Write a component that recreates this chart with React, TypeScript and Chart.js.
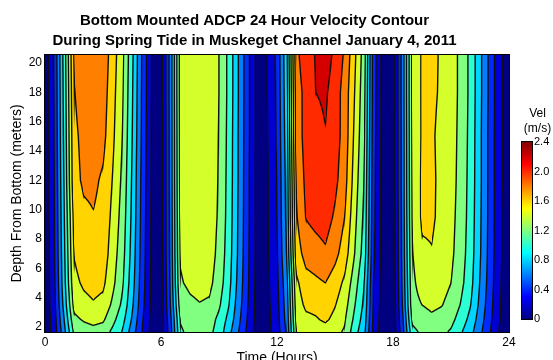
import React, { useEffect, useRef } from 'react';
import { Chart, registerables } from 'chart.js';

Chart.register(...registerables);

// ---------------- data ----------------
const hours = [
  0, 0.5, 1, 1.5, 2, 2.5, 3, 3.5, 4, 4.5, 5, 5.5,
  6, 6.5, 7, 7.5, 8, 8.5, 9, 9.5, 10, 10.5, 11,
  11.5, 12, 12.5, 13, 13.5, 14, 14.5, 15, 15.5, 16, 16.5, 17,
  17.5, 18, 18.5, 19, 19.5, 20, 20.5, 21, 21.5, 22, 22.5, 23, 23.5, 24,
];

const depths = [1.7, 2.5, 3.5, 5, 7, 9.5, 12, 15, 18, 20.5];

// velocity (m/s) along time, one array per depth above bottom
const vel_1_7m = [
  0.03, 0.31, 0.75, 1.24, 1.31, 1.34, 1.31, 1.16, 0.99, 0.71, 0.41, 0.14,
  0.08, 0.53, 1.18, 1.24, 1.27, 1.25, 1.12, 0.87, 0.61, 0.34, 0.09,
  0.13, 0.3, 0.63, 1.4, 1.48, 1.5, 1.52, 1.45, 1.38, 1.09, 0.86, 0.33,
  0.08, 0.06, 0.53, 1.15, 1.24, 1.27, 1.25, 1.18, 1.03, 0.87, 0.65, 0.42, 0.19, 0.06,
];
const vel_2_5m = [
  0.04, 0.33, 0.81, 1.35, 1.42, 1.46, 1.43, 1.26, 1.07, 0.78, 0.44, 0.15,
  0.08, 0.57, 1.21, 1.28, 1.31, 1.29, 1.15, 0.94, 0.66, 0.37, 0.1,
  0.14, 0.32, 0.67, 1.45, 1.55, 1.58, 1.63, 1.55, 1.42, 1.16, 0.91, 0.35,
  0.08, 0.07, 0.57, 1.24, 1.32, 1.36, 1.33, 1.26, 1.11, 0.94, 0.7, 0.45, 0.21, 0.07,
];
const vel_3_5m = [
  0.04, 0.36, 0.88, 1.46, 1.54, 1.58, 1.54, 1.36, 1.16, 0.84, 0.48, 0.16,
  0.09, 0.62, 1.3, 1.36, 1.39, 1.37, 1.23, 1.01, 0.7, 0.4, 0.11,
  0.15, 0.33, 0.7, 1.5, 1.64, 1.66, 1.7, 1.61, 1.48, 1.22, 0.96, 0.37,
  0.09, 0.07, 0.62, 1.32, 1.4, 1.44, 1.41, 1.34, 1.19, 1.01, 0.75, 0.48, 0.22, 0.07,
];
const vel_5m = [
  0.04, 0.38, 0.94, 1.55, 1.63, 1.67, 1.64, 1.45, 1.23, 0.89, 0.51, 0.17,
  0.09, 0.65, 1.38, 1.44, 1.47, 1.45, 1.3, 1.07, 0.74, 0.42, 0.11,
  0.16, 0.35, 0.74, 1.56, 1.72, 1.76, 1.8, 1.7, 1.56, 1.3, 1.01, 0.39,
  0.09, 0.07, 0.65, 1.35, 1.5, 1.52, 1.47, 1.4, 1.26, 1.07, 0.79, 0.51, 0.23, 0.07,
];
const vel_7m = [
  0.04, 0.4, 0.97, 1.61, 1.7, 1.74, 1.71, 1.5, 1.28, 0.93, 0.53, 0.18,
  0.1, 0.67, 1.42, 1.49, 1.52, 1.5, 1.34, 1.1, 0.77, 0.43, 0.12,
  0.17, 0.38, 0.81, 1.7, 1.88, 1.92, 1.97, 1.86, 1.7, 1.41, 1.11, 0.43,
  0.1, 0.08, 0.67, 1.39, 1.57, 1.59, 1.52, 1.44, 1.3, 1.1, 0.82, 0.53, 0.24, 0.08,
];
const vel_9_5m = [
  0.05, 0.41, 1.0, 1.66, 1.76, 1.79, 1.74, 1.55, 1.32, 0.96, 0.55, 0.18,
  0.1, 0.68, 1.44, 1.51, 1.54, 1.52, 1.37, 1.12, 0.78, 0.44, 0.12,
  0.18, 0.4, 0.85, 1.78, 2.01, 2.06, 2.09, 1.97, 1.8, 1.47, 1.16, 0.45,
  0.1, 0.08, 0.68, 1.42, 1.63, 1.63, 1.55, 1.46, 1.32, 1.12, 0.83, 0.54, 0.24, 0.08,
];
const vel_12m = [
  0.05, 0.42, 1.03, 1.74, 1.83, 1.84, 1.77, 1.59, 1.36, 0.98, 0.56, 0.19,
  0.1, 0.69, 1.46, 1.53, 1.56, 1.54, 1.38, 1.13, 0.79, 0.44, 0.12,
  0.18, 0.41, 0.87, 1.82, 2.05, 2.1, 2.15, 2.05, 1.88, 1.52, 1.2, 0.46,
  0.1, 0.08, 0.69, 1.43, 1.63, 1.63, 1.56, 1.48, 1.33, 1.13, 0.84, 0.54, 0.25, 0.08,
];
const vel_15m = [
  0.05, 0.43, 1.06, 1.76, 1.85, 1.9, 1.86, 1.64, 1.4, 1.01, 0.58, 0.19,
  0.1, 0.69, 1.47, 1.53, 1.56, 1.54, 1.39, 1.14, 0.79, 0.45, 0.12,
  0.19, 0.43, 0.9, 1.88, 2.08, 2.12, 2.19, 2.09, 1.92, 1.57, 1.24, 0.48,
  0.1, 0.08, 0.69, 1.44, 1.62, 1.62, 1.56, 1.49, 1.34, 1.14, 0.84, 0.54, 0.25, 0.08,
];
const vel_18m = [
  0.05, 0.44, 1.08, 1.79, 1.89, 1.94, 1.9, 1.67, 1.43, 1.03, 0.59, 0.2,
  0.1, 0.7, 1.48, 1.56, 1.59, 1.56, 1.4, 1.15, 0.8, 0.45, 0.12,
  0.2, 0.44, 0.93, 1.9, 2.07, 2.2, 2.23, 2.1, 1.92, 1.61, 1.27, 0.49,
  0.1, 0.08, 0.7, 1.45, 1.62, 1.63, 1.58, 1.5, 1.35, 1.15, 0.85, 0.55, 0.25, 0.08,
];
const vel_20_5m = [
  0.05, 0.45, 1.1, 1.82, 1.92, 1.97, 1.93, 1.7, 1.45, 1.05, 0.6, 0.2,
  0.1, 0.7, 1.48, 1.55, 1.58, 1.56, 1.4, 1.15, 0.8, 0.45, 0.12,
  0.2, 0.45, 0.95, 1.95, 2.12, 2.21, 2.3, 2.15, 1.97, 1.65, 1.3, 0.5,
  0.1, 0.08, 0.7, 1.45, 1.62, 1.64, 1.58, 1.5, 1.35, 1.15, 0.85, 0.55, 0.25, 0.08,
];

const velocityRows = [
  vel_1_7m, vel_2_5m, vel_3_5m, vel_5m, vel_7m,
  vel_9_5m, vel_12m, vel_15m, vel_18m, vel_20_5m,
];

const contourLevels = [0, 0.2, 0.4, 0.6, 0.8, 1.0, 1.2, 1.4, 1.6, 1.8, 2.0, 2.2, 2.4];
const timeTicks = [0, 6, 12, 18, 24];
const depthTicks = [2, 4, 6, 8, 10, 12, 14, 16, 18, 20];
const colorbarTicks = [0, 0.4, 0.8, 1.2, 1.6, 2, 2.4];

const titleLines = [
  'Bottom Mounted ADCP 24 Hour Velocity Contour',
  'During Spring Tide in Muskeget Channel January 4, 2011',
];
const xTitle = 'Time (Hours)';
const yTitle = 'Depth From Bottom (meters)';
const colorbarTitle = ['Vel', '(m/s)'];

// ---------------- helpers ----------------
const FONT = '"Liberation Sans", Arial, Helvetica, sans-serif';

function jet(x: number): number[] {
  const c = (v: number) => Math.max(0, Math.min(1, v));
  return [
    c(1.5 - Math.abs(4 * x - 3)),
    c(1.5 - Math.abs(4 * x - 2)),
    c(1.5 - Math.abs(4 * x - 1)),
  ].map((v) => Math.round(v * 255));
}

function locate(arr: number[], v: number): [number, number] {
  const n = arr.length;
  if (v <= arr[0]) return [0, 0];
  if (v >= arr[n - 1]) return [n - 2, 1];
  let i = 0;
  while (i < n - 2 && v > arr[i + 1]) i++;
  return [i, (v - arr[i]) / (arr[i + 1] - arr[i])];
}

const contourPlugin = {
  id: 'filledContour',
  beforeDatasetsDraw(chart: any) {
    const { ctx, chartArea: a, scales } = chart;
    const xs = scales.x;
    const ys = scales.y;
    const W = Math.round(a.right - a.left);
    const H = Math.round(a.bottom - a.top);
    const GW = W + 2;
    const GH = H + 2;
    const vmax = contourLevels[contourLevels.length - 1];
    const colLoc: [number, number][] = [];
    for (let gx = 0; gx < GW; gx++) {
      colLoc.push(locate(hours, xs.getValueForPixel(a.left + gx - 1 + 0.5)));
    }
    const rowLoc: [number, number][] = [];
    for (let gy = 0; gy < GH; gy++) {
      rowLoc.push(locate(depths, ys.getValueForPixel(a.top + gy - 1 + 0.5)));
    }
    const vals = new Float32Array(GW * GH);
    for (let gy = 0; gy < GH; gy++) {
      const [j, fd] = rowLoc[gy];
      const r0 = velocityRows[j];
      const r1 = velocityRows[j + 1];
      for (let gx = 0; gx < GW; gx++) {
        const [i, ft] = colLoc[gx];
        const v0 = r0[i] * (1 - ft) + r0[i + 1] * ft;
        const v1 = r1[i] * (1 - ft) + r1[i + 1] * ft;
        vals[gy * GW + gx] = v0 * (1 - fd) + v1 * fd;
      }
    }
    const bandColors = contourLevels.slice(0, -1).map((l) => jet(l / vmax));
    const off = document.createElement('canvas');
    off.width = W;
    off.height = H;
    const octx = off.getContext('2d')!;
    const img = octx.createImageData(W, H);
    const d = img.data;
    for (let y = 0; y < H; y++) {
      for (let x = 0; x < W; x++) {
        const idx = (y + 1) * GW + (x + 1);
        const v = vals[idx];
        let k = 0;
        while (k < bandColors.length - 1 && v >= contourLevels[k + 1]) k++;
        let [r, g, b] = bandColors[k];
        const gxv = (vals[idx + 1] - vals[idx - 1]) / 2;
        const gyv = (vals[idx + GW] - vals[idx - GW]) / 2;
        const grad = Math.hypot(gxv, gyv);
        let best = Infinity;
        for (let m = 1; m < contourLevels.length - 1; m++) {
          const dd = Math.abs(v - contourLevels[m]);
          if (dd < best) best = dd;
        }
        if (grad > 1e-7) {
          const dist = best / grad;
          const alpha = Math.max(0, Math.min(1, 1.2 - dist));
          r = r * (1 - alpha) + 15 * alpha;
          g = g * (1 - alpha) + 15 * alpha;
          b = b * (1 - alpha) + 15 * alpha;
        }
        const p = (y * W + x) * 4;
        d[p] = r;
        d[p + 1] = g;
        d[p + 2] = b;
        d[p + 3] = 255;
      }
    }
    octx.putImageData(img, 0, 0);
    ctx.save();
    ctx.drawImage(off, Math.round(a.left), Math.round(a.top));
    ctx.restore();
  },
  afterDraw(chart: any) {
    const { ctx, chartArea: a } = chart;
    ctx.save();
    ctx.strokeStyle = '#000';
    ctx.lineWidth = 1;
    ctx.strokeRect(a.left - 0.5, a.top - 0.5, a.right - a.left + 1, a.bottom - a.top + 1);
    ctx.restore();
  },
};

const colorbarPlugin = {
  id: 'colorbarFill',
  beforeDatasetsDraw(chart: any) {
    const { ctx, chartArea: a, scales } = chart;
    const ys = scales.y;
    const vmax = colorbarTicks[colorbarTicks.length - 1];
    ctx.save();
    for (let y = Math.floor(a.top); y < Math.ceil(a.bottom); y++) {
      const v = ys.getValueForPixel(y + 0.5);
      const [r, g, b] = jet(Math.max(0, Math.min(1, v / vmax)));
      ctx.fillStyle = `rgb(${r},${g},${b})`;
      ctx.fillRect(a.left, y, a.right - a.left, 1);
    }
    ctx.restore();
  },
  afterDraw(chart: any) {
    const { ctx, chartArea: a } = chart;
    ctx.save();
    ctx.strokeStyle = '#000';
    ctx.lineWidth = 1;
    ctx.strokeRect(a.left - 0.5, a.top - 0.5, a.right - a.left + 1, a.bottom - a.top + 1);
    ctx.restore();
  },
};

export default function App() {
  const mainRef = useRef<HTMLCanvasElement>(null);
  const barRef = useRef<HTMLCanvasElement>(null);

  useEffect(() => {
    const points: any[] = [];
    hours.forEach((t, i) => {
      depths.forEach((dep, j) => {
        points.push({ x: t, y: dep, v: velocityRows[j][i] });
      });
    });

    const main = new Chart(mainRef.current!, {
      type: 'scatter',
      data: {
        datasets: [
          { data: points, pointRadius: 0, pointHoverRadius: 0, showLine: false },
        ],
      },
      options: {
        animation: false,
        responsive: false,
        events: [],
        layout: { padding: { left: 0, right: 44, top: 0, bottom: 0 } },
        plugins: {
          legend: { display: false },
          tooltip: { enabled: false },
          title: {
            display: true,
            text: titleLines,
            color: '#000',
            font: { family: FONT, size: 15, weight: 'bold', lineHeight: 1.3333 },
            padding: { top: 11, bottom: 4 },
          },
        },
        scales: {
          x: {
            type: 'linear',
            min: 0,
            max: 24,
            afterBuildTicks: (s: any) => {
              s.ticks = timeTicks.map((v) => ({ value: v }));
            },
            afterFit: (s: any) => {
              s.height = 36;
            },
            grid: { display: false, drawTicks: false },
            border: { display: false },
            ticks: { color: '#000', font: { family: FONT, size: 12 }, padding: 3, maxRotation: 0 },
            title: {
              display: true,
              text: xTitle,
              color: '#000',
              font: { family: FONT, size: 14, lineHeight: 1.2 },
              padding: { top: 0, bottom: 1.5 },
            },
          },
          y: {
            type: 'linear',
            min: 1.65,
            max: 20.55,
            afterBuildTicks: (s: any) => {
              s.ticks = depthTicks.map((v) => ({ value: v }));
            },
            afterFit: (s: any) => {
              s.width = 45;
            },
            grid: { display: false, drawTicks: false },
            border: { display: false },
            ticks: { color: '#000', font: { family: FONT, size: 12 }, padding: 3 },
            title: {
              display: true,
              text: yTitle,
              color: '#000',
              font: { family: FONT, size: 14, lineHeight: 1.2 },
              padding: { top: 8.6, bottom: 0 },
            },
          },
        },
      } as any,
      plugins: [contourPlugin],
    });

    const bar = new Chart(barRef.current!, {
      type: 'scatter',
      data: { datasets: [] },
      options: {
        animation: false,
        responsive: false,
        events: [],
        layout: { padding: { left: 3, right: 0, top: 0, bottom: 11 } },
        plugins: {
          legend: { display: false },
          tooltip: { enabled: false },
          title: {
            display: true,
            text: colorbarTitle,
            color: '#000',
            font: { family: FONT, size: 12, weight: 'normal', lineHeight: 1.25 },
            padding: { top: 6.5, bottom: 5.5 },
          },
        },
        scales: {
          x: { display: false, min: 0, max: 1 },
          y: {
            position: 'right',
            min: 0,
            max: 2.4,
            afterBuildTicks: (s: any) => {
              s.ticks = colorbarTicks.map((v) => ({ value: v }));
            },
            afterFit: (s: any) => {
              s.width = 21;
            },
            grid: { display: false, drawTicks: false },
            border: { display: false },
            ticks: { color: '#000', font: { family: FONT, size: 11 }, padding: 2 },
          },
        },
      } as any,
      plugins: [colorbarPlugin],
    });

    return () => {
      main.destroy();
      bar.destroy();
    };
  }, []);

  return (
    <div style={{ position: 'relative', width: 553, height: 360, overflow: 'hidden', background: '#fff' }}>
      <style>{'html,body{margin:0;padding:0;overflow:hidden;background:#fff}'}</style>
      <canvas
        ref={mainRef}
        width={553}
        height={368}
        style={{ position: 'absolute', left: 0, top: 0, width: 553, height: 368 }}
      />
      <canvas
        ref={barRef}
        width={34}
        height={230}
        style={{ position: 'absolute', left: 519, top: 100, width: 34, height: 230 }}
      />
    </div>
  );
}
